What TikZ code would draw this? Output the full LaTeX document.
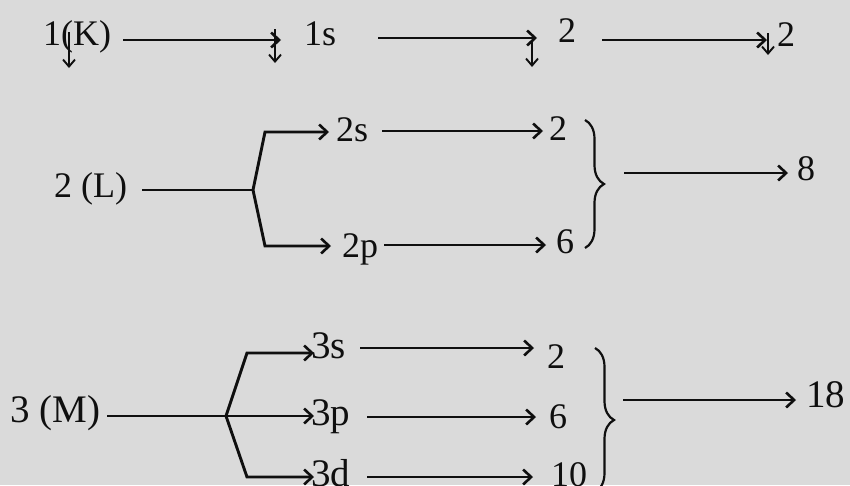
\documentclass[tikz,border=0pt]{standalone}
\usepackage{fontspec}
\setmainfont{Liberation Serif}
\usetikzlibrary{arrows.meta,decorations.pathreplacing}
\definecolor{bg}{RGB}{218,218,218}
\definecolor{ink}{RGB}{15,15,15}
\begin{document}
\begin{tikzpicture}[x=1pt,y=-1pt,
  lbl/.style={inner sep=0pt, anchor=base west, text=ink, font=\fontsize{36pt}{40pt}\selectfont},
  big/.style={lbl, font=\fontsize{39pt}{44pt}\selectfont},
  arr/.style={draw=ink, line width=2.9pt, line join=miter, -{Straight Barb[length=8pt,width=15pt,line width=2.6pt]}},
  ln/.style={draw=ink, line width=2.9pt},
  darr/.style={draw=ink, line width=1.9pt, -{Straight Barb[length=7pt,width=12pt,line width=1.9pt]}},
  brc/.style={draw=ink, line width=2.2pt, decorate, decoration={brace, amplitude=19pt}}]
\fill[bg] (0,0) rectangle (850,485);
\useasboundingbox (0,0) rectangle (850,485);

% ---------- row 1 ----------
\node[lbl] (K) at (43,45) {1(K)};
\node[lbl] (s1) at (304,45) {1s};
\node[lbl] (n1) at (558,42) {2};
\node[lbl] (n1b) at (777,46) {2};
\coordinate (h1a) at (123,40); \coordinate (h1b) at (281,40);
\coordinate (h2a) at (378,38); \coordinate (h2b) at (537,38);
\coordinate (h3a) at (602,40); \coordinate (h3b) at (767,40);
\draw[arr] (h1a) -- (h1b);
\draw[arr] (h2a) -- (h2b);
\draw[arr] (h3a) -- (h3b);
\coordinate (v1a) at (69,32); \coordinate (v1b) at (69,68);
\coordinate (v2a) at (275,29); \coordinate (v2b) at (275,63);
\coordinate (v3a) at (532,42); \coordinate (v3b) at (532,67);
\coordinate (v4a) at (768,33); \coordinate (v4b) at (768,55);
\draw[darr] (v1a) -- (v1b);
\draw[darr] (v2a) -- (v2b);
\draw[darr] (v3a) -- (v3b);
\draw[darr] (v4a) -- (v4b);

% ---------- row 2 ----------
\node[lbl] (L) at (54,197) {2 (L)};
\coordinate (Ls) at (142,190);
\coordinate (Lj) at (253,190);
\coordinate (Lt) at (265,132); \coordinate (Lb) at (265,246);
\coordinate (Lte) at (329,132); \coordinate (Lbe) at (331,246);
\draw[ln] (Ls) -- (Lj);
\draw[arr] (Lj) -- (Lt) -- (Lte);
\draw[arr] (Lj) -- (Lb) -- (Lbe);
\node[lbl] (s2) at (336,141) {2s};
\node[lbl] (p2) at (342,257) {2p};
\coordinate (s2a) at (382,131); \coordinate (s2b) at (543,131);
\coordinate (p2a) at (384,245); \coordinate (p2b) at (546,245);
\draw[arr] (s2a) -- (s2b);
\draw[arr] (p2a) -- (p2b);
\node[lbl] (e2s) at (549,140) {2};
\node[lbl] (e2p) at (556,253) {6};
\coordinate (b2t) at (585,120); \coordinate (b2b) at (585,248);
\draw[brc] (b2t) -- (b2b);
\coordinate (r2a) at (624,173); \coordinate (r2b) at (788,173);
\draw[arr] (r2a) -- (r2b);
\node[lbl] (t8) at (797,180) {8};

% ---------- row 3 ----------
\node[big] (M) at (10,422) {3 (M)};
\coordinate (Ms) at (107,416);
\coordinate (Mj) at (226,416);
\coordinate (Mt) at (247,353); \coordinate (Mb) at (247,477);
\coordinate (Mte) at (314,353); \coordinate (Mme) at (314,416); \coordinate (Mbe) at (314,477);
\draw[ln] (Ms) -- (Mj);
\draw[arr] (Mj) -- (Mme);
\draw[arr] (Mj) -- (Mt) -- (Mte);
\draw[arr] (Mj) -- (Mb) -- (Mbe);
\node[big] (s3) at (311,358) {3s};
\node[big] (p3) at (311,425) {3p};
\node[big] (d3) at (311,486) {3d};
\coordinate (s3a) at (360,348); \coordinate (s3b) at (534,348);
\coordinate (p3a) at (367,417); \coordinate (p3b) at (536,417);
\coordinate (d3a) at (367,477); \coordinate (d3b) at (533,477);
\draw[arr] (s3a) -- (s3b);
\draw[arr] (p3a) -- (p3b);
\draw[arr] (d3a) -- (d3b);
\node[lbl] (e3s) at (547,368) {2};
\node[lbl] (e3p) at (549,428) {6};
\node[lbl] (e3d) at (551,486) {10};
\coordinate (b3t) at (595,348); \coordinate (b3b) at (595,492);
\draw[brc] (b3t) -- (b3b);
\coordinate (r3a) at (623,400); \coordinate (r3b) at (796,400);
\draw[arr] (r3a) -- (r3b);
\node[big] (t18) at (806,407) {18};
\end{tikzpicture}
\end{document}
